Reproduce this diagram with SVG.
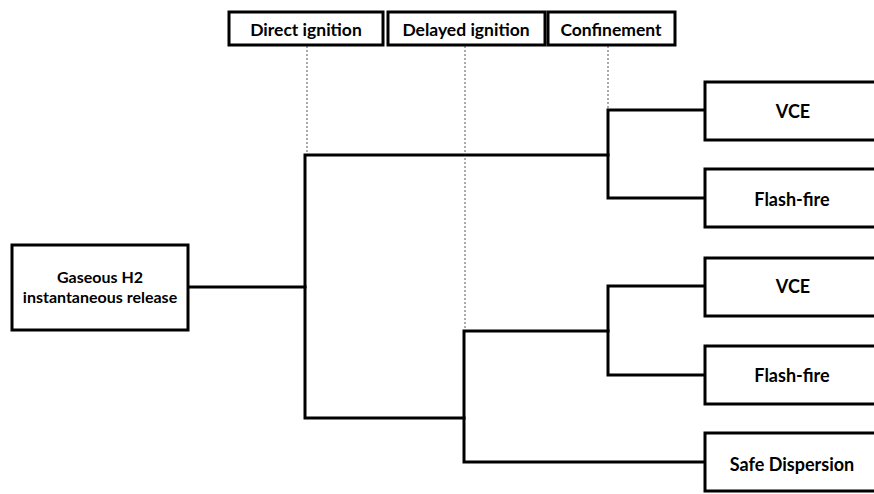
<svg xmlns="http://www.w3.org/2000/svg" width="874" height="494" viewBox="0 0 874 494">
  <style>
    .box { fill: #ffffff; stroke: #000000; stroke-width: 3; }
    .wire { fill: none; stroke: #000000; stroke-width: 3; stroke-linejoin: miter; stroke-linecap: square; }
    .guide { fill: none; stroke: #555555; stroke-width: 1; stroke-dasharray: 2 2; }
    .lbl { font-family: Lato, "Open Sans", "Liberation Sans", sans-serif; font-weight: bold; fill: #000000; text-anchor: middle; }
    .hdr { font-size: 17.5px; }
    .src { font-size: 16px; }
    .out { font-size: 18px; }
  </style>

  <!-- dotted guides dropping from the column headers -->
  <g id="guides">
    <line class="guide" x1="307" y1="46" x2="307" y2="154"/>
    <line class="guide" x1="465" y1="46" x2="465" y2="330"/>
    <line class="guide" x1="608" y1="46" x2="608" y2="109"/>
  </g>

  <!-- column headers -->
  <g id="hdr-direct">
    <rect class="box" x="229" y="12" width="154" height="33"/>
    <text class="lbl hdr" x="306" y="36">Direct ignition</text>
  </g>
  <g id="hdr-delayed">
    <rect class="box" x="388" y="12" width="157" height="33"/>
    <text class="lbl hdr" x="466" y="36">Delayed ignition</text>
  </g>
  <g id="hdr-confinement">
    <rect class="box" x="548" y="12" width="127" height="33"/>
    <text class="lbl hdr" x="611" y="36">Confinement</text>
  </g>

  <!-- event tree connectors -->
  <g id="connectors">
    <polyline class="wire" points="188,287 305,287"/>
    <polyline class="wire" points="608,155 305,155 305,418 464,418"/>
    <polyline class="wire" points="705,110 608,110 608,198 705,198"/>
    <polyline class="wire" points="608,331 464,331 464,462 705,462"/>
    <polyline class="wire" points="705,286 608,286 608,375 705,375"/>
  </g>

  <!-- initiating event -->
  <g id="root">
    <rect class="box" x="12" y="245" width="176" height="85"/>
    <text class="lbl src" x="100" y="283">Gaseous H2</text>
    <text class="lbl src" x="100" y="303">instantaneous release</text>
  </g>

  <!-- outcomes -->
  <g id="out-vce-1">
    <rect class="box" x="705" y="82" width="190" height="58"/>
    <text class="lbl out" x="793" y="118">VCE</text>
  </g>
  <g id="out-flash-1">
    <rect class="box" x="705" y="169" width="190" height="58"/>
    <text class="lbl out" x="792" y="206">Flash-fire</text>
  </g>
  <g id="out-vce-2">
    <rect class="box" x="705" y="258" width="190" height="58"/>
    <text class="lbl out" x="793" y="293">VCE</text>
  </g>
  <g id="out-flash-2">
    <rect class="box" x="705" y="346" width="190" height="58"/>
    <text class="lbl out" x="792" y="382">Flash-fire</text>
  </g>
  <g id="out-safe">
    <rect class="box" x="705" y="433" width="190" height="58"/>
    <text class="lbl out" x="792" y="471">Safe Dispersion</text>
  </g>
</svg>
